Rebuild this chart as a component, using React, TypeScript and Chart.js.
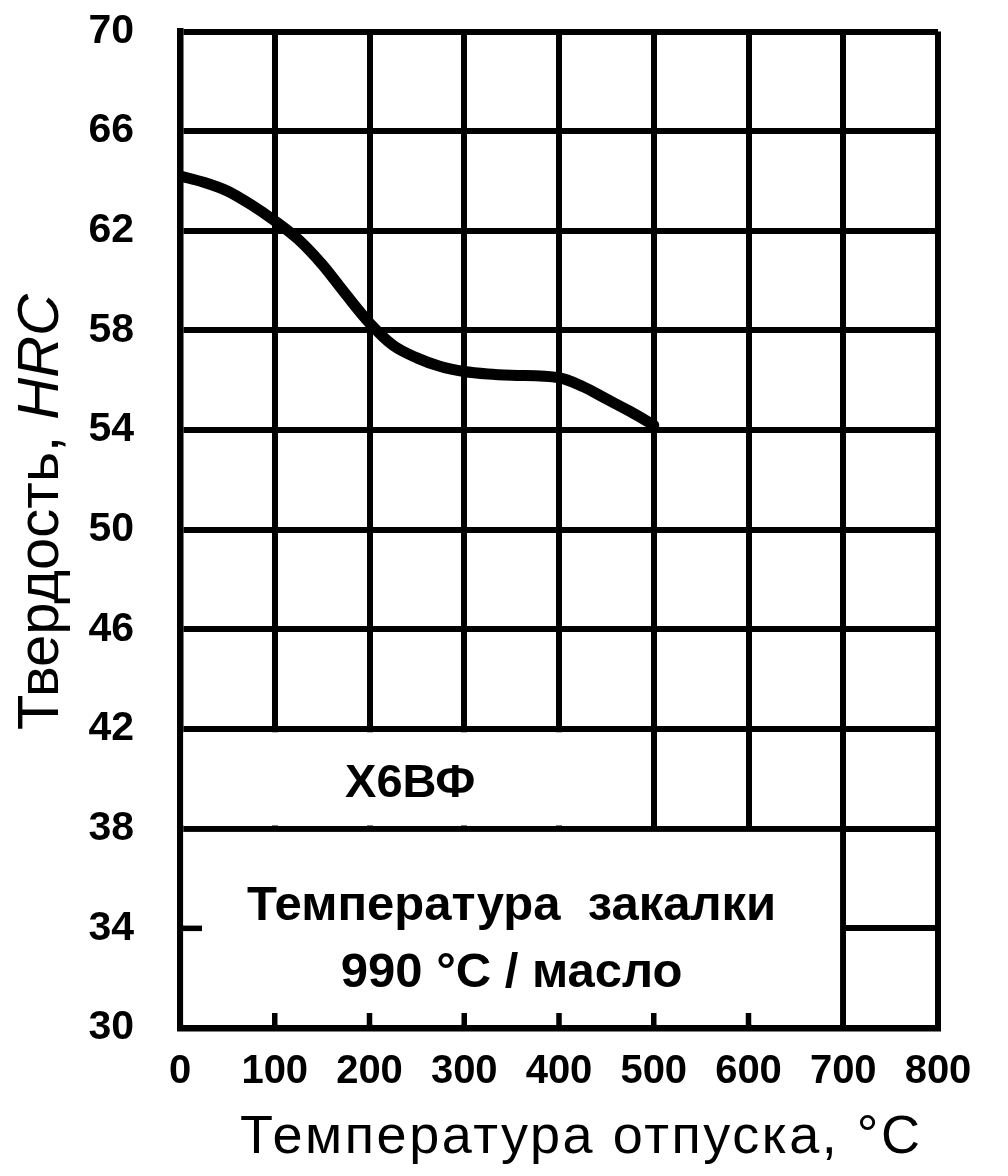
import React, { useEffect, useRef } from 'react';
import { Chart, registerables } from 'chart.js';

Chart.register(...registerables);

// ---- data ----
const temperatures = [0, 25, 50, 75, 100, 125, 150, 175, 200, 225, 250, 275, 300, 325, 350, 400, 425, 450, 475, 500];
const hardness = [64.2, 63.95, 63.6, 63.05, 62.4, 61.65, 60.65, 59.45, 58.3, 57.4, 56.9, 56.55, 56.35, 56.25, 56.2, 56.1, 55.75, 55.25, 54.75, 54.2];

const xTickValues = [0, 100, 200, 300, 400, 500, 600, 700, 800];
const yTickValues = [30, 34, 38, 42, 46, 50, 54, 58, 62, 66, 70];

const xAxisTitle = 'Температура отпуска, °C';
const yAxisTitleMain = 'Твердость, ';
const yAxisTitleItalic = 'HRC';
const steelName = 'Х6ВФ';
const noteLines = ['Температура  закалки', '990 °C / масло'];

const FONT = 'Arial, "Liberation Sans", sans-serif';

const overlayPlugin = {
  id: 'overlayPlugin',
  beforeDatasetsDraw(chart: any) {
    const { ctx } = chart;
    const xs = chart.scales.x;
    const ys = chart.scales.y;
    const px = (v: number) => xs.getPixelForValue(v);
    const py = (v: number) => ys.getPixelForValue(v);
    const inset = 3.2;
    ctx.save();
    ctx.fillStyle = '#ffffff';
    // box with steel name
    ctx.fillRect(px(0) + inset, py(42) + inset, px(500) - px(0) - 2 * inset, py(38) - py(42) - 2 * inset);
    // box with quench note
    ctx.fillRect(px(0) + inset, py(38) + inset, px(700) - px(0) - 2 * inset, py(30) - py(38) - 2 * inset);
    // tick stubs inside the note box
    ctx.strokeStyle = '#000';
    ctx.lineWidth = 5.5;
    ctx.lineCap = 'butt';
    for (let t = 100; t <= 600; t += 100) {
      ctx.beginPath();
      ctx.moveTo(px(t), py(30));
      ctx.lineTo(px(t), py(30) - 15);
      ctx.stroke();
    }
    ctx.beginPath();
    ctx.moveTo(px(0), py(34));
    ctx.lineTo(px(0) + 22, py(34));
    ctx.stroke();

    // texts inside boxes
    ctx.fillStyle = '#000';
    ctx.textAlign = 'center';
    ctx.textBaseline = 'alphabetic';
    ctx.font = `bold 47px ${FONT}`;
    ctx.fillText(steelName, px(243), py(40) + 18);
    ctx.font = `bold 49px ${FONT}`;
    ctx.fillText(noteLines[0], px(350), py(34.32));
    ctx.fillText(noteLines[1], px(350), py(31.63));
    ctx.restore();
  },
  afterDraw(chart: any) {
    const { ctx } = chart;
    ctx.save();
    ctx.fillStyle = '#000';
    // x axis title, stretched to span 240..920
    ctx.font = `54px ${FONT}`;
    ctx.textAlign = 'left';
    ctx.textBaseline = 'alphabetic';
    const baseW = ctx.measureText(xAxisTitle).width;
    const n = Array.from(xAxisTitle).length;
    const spacing = Math.max(0, (680 - baseW) / (n - 1));
    (ctx as any).letterSpacing = `${spacing}px`;
    ctx.fillText(xAxisTitle, 240, 1153);
    (ctx as any).letterSpacing = '0px';
    // y axis title (rotated, with italic HRC)
    ctx.translate(58, 512);
    ctx.rotate(-Math.PI / 2);
    const mainFont = `58px ${FONT}`;
    const italFont = `italic 58px ${FONT}`;
    ctx.font = mainFont;
    const w1 = ctx.measureText(yAxisTitleMain).width;
    ctx.font = italFont;
    const w2 = ctx.measureText(yAxisTitleItalic).width;
    const start = -(w1 + w2) / 2;
    ctx.textAlign = 'left';
    ctx.font = mainFont;
    ctx.fillText(yAxisTitleMain, start, 0);
    ctx.font = italFont;
    ctx.fillText(yAxisTitleItalic, start + w1, 0);
    ctx.restore();
  },
};

export default function App() {
  const canvasRef = useRef<HTMLCanvasElement | null>(null);

  useEffect(() => {
    const canvas = canvasRef.current;
    if (!canvas) return;
    const points = temperatures.map((t, i) => ({ x: t, y: hardness[i] }));
    const chart = new Chart(canvas, {
      type: 'line',
      data: {
        datasets: [
          {
            data: points,
            borderColor: '#000',
            borderWidth: 11,
            pointRadius: 0,
            cubicInterpolationMode: 'monotone',
            borderCapStyle: 'round',
            borderJoinStyle: 'round',
            fill: false,
          },
        ],
      },
      options: {
        responsive: false,
        animation: false,
        events: [],
        layout: { padding: { top: 31.5, right: 70, bottom: 0, left: 0 } },
        plugins: {
          legend: { display: false },
          tooltip: { enabled: false },
          title: { display: false },
        },
        scales: {
          x: {
            type: 'linear',
            min: 0,
            max: 800,
            afterBuildTicks: (scale: any) => {
              scale.ticks = xTickValues.map((v) => ({ value: v }));
            },
            afterFit: (scale: any) => {
              scale.height = 148;
              scale.paddingLeft = 0;
              scale.paddingRight = 0;
            },
            grid: { color: '#000', lineWidth: 6, drawTicks: false },
            border: { display: true, color: '#000', width: 6.5 },
            ticks: {
              color: '#000',
              padding: 20,
              maxRotation: 0,
              autoSkip: false,
              font: { family: FONT, size: 40, weight: 'bold' },
            },
          },
          y: {
            type: 'linear',
            min: 30,
            max: 70,
            afterBuildTicks: (scale: any) => {
              scale.ticks = yTickValues.map((v) => ({ value: v }));
            },
            afterFit: (scale: any) => {
              scale.width = 180;
              scale.paddingTop = 0;
              scale.paddingBottom = 0;
            },
            grid: { color: '#000', lineWidth: 6, drawTicks: false },
            border: { display: true, color: '#000', width: 6.5 },
            ticks: {
              color: '#000',
              padding: 46,
              autoSkip: false,
              font: { family: FONT, size: 41, weight: 'bold' },
            },
          },
        },
      },
      plugins: [overlayPlugin],
    } as any);
    return () => chart.destroy();
  }, []);

  return (
    <div style={{ position: 'absolute', left: 0, top: 0, width: 1008, height: 1176, background: '#fff' }}>
      <canvas ref={canvasRef} width={1008} height={1176} style={{ width: 1008, height: 1176, display: 'block' }} />
    </div>
  );
}
